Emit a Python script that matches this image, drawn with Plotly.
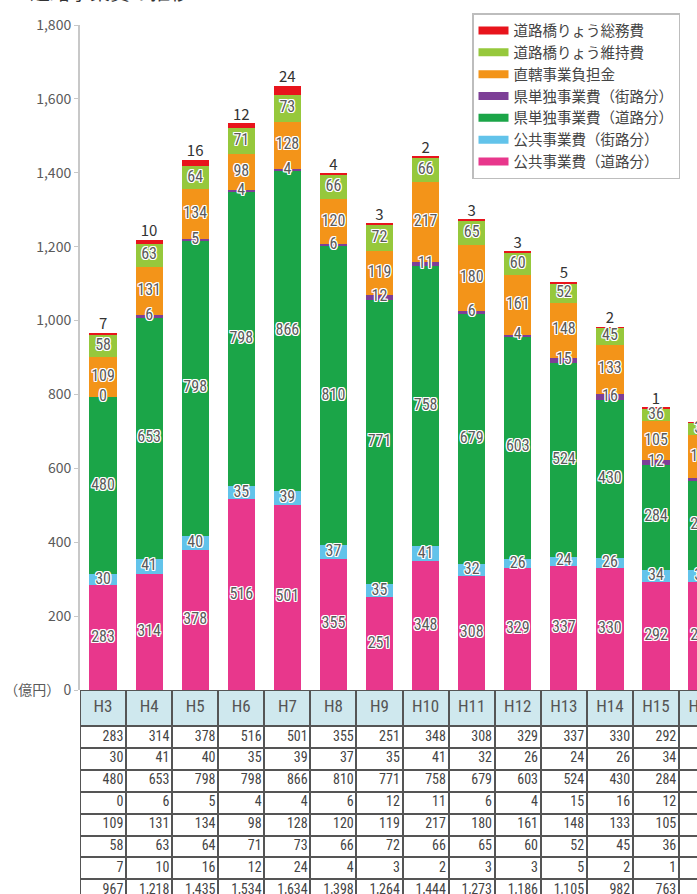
import plotly.graph_objects as go
import numpy as np

# ---------------- data ----------------
years = ["H3", "H4", "H5", "H6", "H7", "H8", "H9", "H10", "H11", "H12", "H13", "H14", "H15", "H16"]
koukyou_douro = [283, 314, 378, 516, 501, 355, 251, 348, 308, 329, 337, 330, 292, 292]   # 公共事業費(道路分)
koukyou_gairo = [30, 41, 40, 35, 39, 37, 35, 41, 32, 26, 24, 26, 34, 33]                 # 公共事業費(街路分)
kentan_douro = [480, 653, 798, 798, 866, 810, 771, 758, 679, 603, 524, 430, 284, 241]    # 県単独事業費(道路分)
kentan_gairo = [0, 6, 5, 4, 4, 6, 12, 11, 6, 4, 15, 16, 12, 8]                           # 県単独事業費(街路分)
chokkatsu = [109, 131, 134, 98, 128, 120, 119, 217, 180, 161, 148, 133, 105, 116]        # 直轄事業負担金
iji = [58, 63, 64, 71, 73, 66, 72, 66, 65, 60, 52, 45, 36, 33]                           # 道路橋りょう維持費
soumu = [7, 10, 16, 12, 24, 4, 3, 2, 3, 3, 5, 2, 1, 1]                                   # 道路橋りょう総務費
totals = [967, 1218, 1435, 1534, 1634, 1398, 1264, 1444, 1273, 1186, 1105, 982, 763, 724]

series_values = [koukyou_douro, koukyou_gairo, kentan_douro, kentan_gairo, chokkatsu, iji, soumu]
series_names = ["公共事業費（道路分）", "公共事業費（街路分）", "県単独事業費（道路分）",
                "県単独事業費（街路分）", "直轄事業負担金", "道路橋りょう維持費", "道路橋りょう総務費"]
series_colors = ["#e8378c", "#62c3ea", "#1ba548", "#7d3f97", "#f39419", "#96c83c", "#e8141c"]

y_ticks = list(range(0, 1801, 200))
y_unit_label = "（億円）"
title_text = "道路事業費の推移"

# ---------------- style ----------------
NARROW = "Liberation Sans Narrow, Arial Narrow, Roboto Condensed, Liberation Sans, sans-serif"
JP = "Noto Sans CJK JP, Noto Sans, sans-serif"
W, H = 697, 894
bar_top_px, bar_bottom_px = 25, 690
header_h = 1.65          # header height in row units
row_px = 21.9
halo = ("-1px -1px 0 #fff, 1px -1px 0 #fff, -1px 1px 0 #fff, 1px 1px 0 #fff, "
        "0 -1px 0 #fff, 0 1px 0 #fff, -1px 0 0 #fff, 1px 0 0 #fff")

n = len(years)
xi = np.arange(n)

fig = go.Figure()

# stacked bars
for vals, name, col in zip(series_values, series_names, series_colors):
    fig.add_trace(go.Bar(x=xi, y=vals, name=name, marker=dict(color=col, line=dict(width=0)),
                         width=0.59, showlegend=False, hoverinfo="skip"))

# in-bar labels (all but the top series)
cum = np.zeros(n)
for k, vals in enumerate(series_values):
    v = np.array(vals, dtype=float)
    if k < len(series_values) - 1:
        fig.add_trace(go.Scatter(x=xi, y=cum + v / 2, mode="text", text=[str(a) for a in vals],
                                 textposition="middle center", showlegend=False, hoverinfo="skip",
                                 textfont=dict(family=NARROW, size=16, color="#5a5a5a", shadow=halo)))
    cum = cum + v
# top labels
fig.add_trace(go.Scatter(x=xi, y=cum, mode="text", text=[str(a) for a in soumu],
                         textposition="top center", showlegend=False, hoverinfo="skip",
                         textfont=dict(family=JP, size=15, color="#333333")))

# legend entries (top to bottom)
for name, col in zip(series_names[::-1], series_colors[::-1]):
    fig.add_trace(go.Scatter(x=[None], y=[None], mode="lines", name=name,
                             line=dict(color=col, width=8), hoverinfo="skip"))

# ---------------- table ----------------
row_values = series_values + [totals]
n_rows = len(row_values) + 1
x_edges = np.arange(n + 1) - 0.5
y_edges = [0.0] + [header_h + k for k in range(n_rows)]
z = [[1] * n] + [[0] * n for _ in row_values]
fig.add_trace(go.Heatmap(x=x_edges, y=y_edges, z=z, xaxis="x2", yaxis="y2",
                         colorscale=[[0, "#ffffff"], [1, "#cfe8ee"]], zmin=0, zmax=1,
                         showscale=False, xgap=2, ygap=2, hoverinfo="skip"))
fig.add_trace(go.Scatter(x=xi, y=[header_h / 2] * n, mode="text", text=years, xaxis="x2", yaxis="y2",
                         textposition="middle center", showlegend=False, hoverinfo="skip",
                         textfont=dict(family=NARROW, size=17, color="#555555")))
for r, vals in enumerate(row_values):
    fig.add_trace(go.Scatter(x=xi + 0.44, y=[header_h + r + 0.5] * n, mode="text",
                             text=[f"{a:,}" for a in vals], xaxis="x2", yaxis="y2",
                             textposition="middle left", showlegend=False, hoverinfo="skip",
                             textfont=dict(family=NARROW, size=14, color="#444444")))

# ---------------- layout ----------------
plot_w = W - 80
x_range = [-0.5, -0.5 + plot_w / 46.08]
table_rows_visible = header_h + (H - 726) / row_px
bar_dom = [1 - bar_bottom_px / H, 1 - bar_top_px / H]

fig.update_layout(
    width=W, height=H, margin=dict(l=80, r=0, t=0, b=0, pad=0, autoexpand=False),
    paper_bgcolor="white", plot_bgcolor="white", barmode="stack", bargap=0,
    font=dict(family=JP, color="#555555"),
    xaxis=dict(domain=[0, 1], range=x_range, showticklabels=False, showgrid=False, automargin=False,
               zeroline=False, showline=False, ticks=""),
    yaxis=dict(domain=bar_dom, range=[0, 1800], tickvals=y_ticks, automargin=False,
               ticktext=[(y_unit_label + " 0") if t == 0 else f"{t:,}" for t in y_ticks],
               tickfont=dict(family=JP, size=14, color="#5a5a5a"),
               showline=True, linecolor="#c8c8c8", linewidth=2, ticks="outside", ticklen=4,
               tickcolor="#c8c8c8", showgrid=False, zeroline=False),
    xaxis2=dict(domain=[0, 1], anchor="y2", range=x_range, showticklabels=False, showgrid=False,
                zeroline=False, showline=False, ticks="", automargin=False),
    yaxis2=dict(domain=[0, bar_dom[0]], anchor="x2", range=[table_rows_visible, 0], automargin=False,
                showticklabels=False, showgrid=False, zeroline=False, showline=False, ticks=""),
    legend=dict(x=(472 - 80) / plot_w, y=1 - 13 / H, xanchor="left", yanchor="top",
                bgcolor="white", bordercolor="#bdbdbd", borderwidth=1.5,
                font=dict(family=JP, size=14.5, color="#444444"), tracegroupgap=0,
                traceorder="normal", itemwidth=30),
    shapes=[dict(type="rect", xref="x2 domain", yref="y2 domain", x0=0, x1=1, y0=0, y1=1,
                 fillcolor="#555555", line=dict(width=0), layer="below")],
    annotations=[dict(text=title_text, xref="paper", yref="paper", x=(28 - 80) / plot_w, y=1,
                      xanchor="left", yanchor="bottom", yshift=-8, showarrow=False,
                      font=dict(family=JP, size=20, color="#333333"))],
)

fig.write_html("out.html")
